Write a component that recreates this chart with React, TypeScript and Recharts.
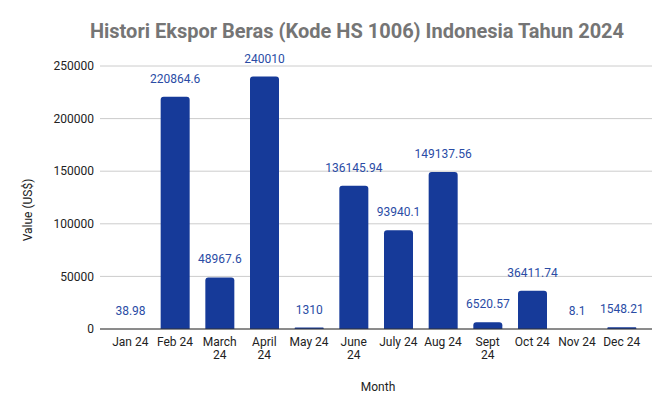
import { BarChart, Bar, XAxis, YAxis, CartesianGrid, LabelList } from 'recharts';

const months = ['Jan 24', 'Feb 24', 'March 24', 'April 24', 'May 24', 'June 24', 'July 24', 'Aug 24', 'Sept 24', 'Oct 24', 'Nov 24', 'Dec 24'];
const values = [38.98, 220864.6, 48967.6, 240010, 1310, 136145.94, 93940.1, 149137.56, 6520.57, 36411.74, 8.1, 1548.21];
const wrappedMonths = ['March 24', 'April 24', 'June 24', 'Sept 24'];
const yTicks = [0, 50000, 100000, 150000, 200000, 250000];

const chartData = months.map((month, i) => ({ month, value: values[i] }));

const BAR_COLOR = '#163a99';
const LABEL_COLOR = '#2a4ca5';

function MonthTick({ x, y, payload }: any) {
  const label: string = payload.value;
  const lines = wrappedMonths.includes(label) ? label.split(' ') : [label];
  return (
    <text x={x} y={y} textAnchor="middle" fill="#222" fontSize={12}>
      {lines.map((line, i) => (
        <tspan key={i} x={x} dy={i === 0 ? 17 : 13}>
          {line}
        </tspan>
      ))}
    </text>
  );
}

export default function App() {
  return (
    <div style={{ position: 'absolute', left: 0, top: 0, width: 672, height: 416, background: '#fff', fontFamily: 'Roboto, sans-serif' }}>
      <div style={{ position: 'absolute', top: 19, left: 0, width: 714, textAlign: 'center', fontSize: 20, fontWeight: 700, color: '#757575' }}>
        Histori Ekspor Beras (Kode HS 1006) Indonesia Tahun 2024
      </div>
      <div style={{ position: 'absolute', left: 28, top: 210, transform: 'translate(-50%, -50%) rotate(-90deg)', fontSize: 12, color: '#222', whiteSpace: 'nowrap' }}>
        Value (US$)
      </div>
      <div style={{ position: 'absolute', left: 378, top: 387, transform: 'translate(-50%, -50%)', fontSize: 12, color: '#222' }}>
        Month
      </div>
      <BarChart
        width={672}
        height={416}
        data={chartData}
        margin={{ top: 66, right: 20, bottom: 47, left: 0 }}
        barSize={29}
        style={{ fontFamily: 'Roboto, sans-serif' }}
      >
        <CartesianGrid vertical={false} stroke="#cccccc" />
        <XAxis
          dataKey="month"
          height={40}
          padding={{ left: 8, right: 8 }}
          tickLine={false}
          tickSize={0}
          tickMargin={0}
          axisLine={{ stroke: '#333' }}
          tick={<MonthTick />}
          interval={0}
        />
        <YAxis
          width={100}
          domain={[0, 250000]}
          ticks={yTicks}
          axisLine={false}
          tickLine={false}
          tickSize={0}
          tickMargin={6}
          tick={{ fill: '#222', fontSize: 12 }}
        />
        <Bar dataKey="value" fill={BAR_COLOR} radius={[3, 3, 0, 0]} isAnimationActive={false}>
          <LabelList dataKey="value" position="top" offset={14} fill={LABEL_COLOR} fontSize={12} formatter={(v: any) => String(v)} />
        </Bar>
      </BarChart>
    </div>
  );
}
